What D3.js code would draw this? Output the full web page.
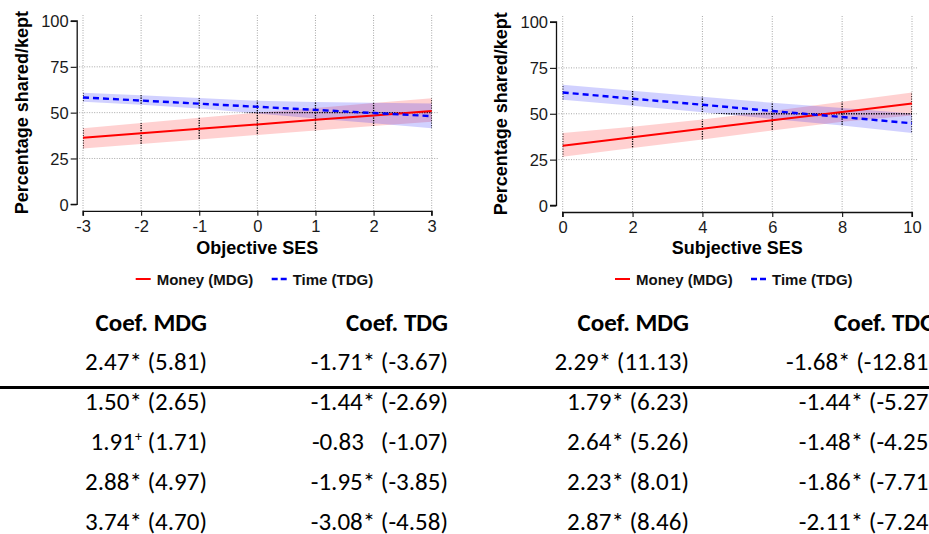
<!DOCTYPE html>
<html><head><meta charset="utf-8">
<script src="https://cdn.jsdelivr.net/npm/d3@7"></script>
<style>
html,body{margin:0;padding:0;background:#fff;}
svg{display:block;}
</style></head>
<body>
<svg id="chart" width="929" height="534"></svg>
<script>
// ---- Data: Objective SES panel ----
const objX = [-3, -2, -1, 0, 1, 2, 3];
const objMoneyFit  = [36.3, 38.8, 41.2, 43.6, 46.1, 48.5, 50.9];
const objMoneyLow  = [30.5, 32.9, 35.4, 37.8, 40.2, 42.7, 45.1];
const objMoneyHigh = [41.5, 44.3, 47.2, 50.0, 52.6, 55.2, 57.8];
const objTimeFit   = [58.3, 56.6, 54.9, 53.2, 51.5, 49.8, 48.1];
const objTimeLow   = [56.0, 54.3, 52.2, 49.6, 46.8, 44.2, 41.5];
const objTimeHigh  = [60.9, 59.5, 58.0, 56.5, 55.8, 55.4, 55.0];
// ---- Data: Subjective SES panel ----
const subX = [0, 2, 4, 6, 8, 10];
const subMoneyFit  = [32.6, 37.2, 41.8, 46.4, 51.0, 55.6];
const subMoneyLow  = [26.5, 31.3, 36.0, 40.9, 45.6, 49.1];
const subMoneyHigh = [39.5, 42.9, 46.8, 51.5, 56.5, 61.6];
const subTimeFit   = [61.6, 58.2, 54.9, 51.5, 48.2, 44.8];
const subTimeLow   = [57.6, 54.3, 50.8, 47.2, 43.6, 39.5];
const subTimeHigh  = [65.8, 62.5, 59.2, 56.0, 53.2, 50.2];
const yTicks = [0, 25, 50, 75, 100];
const legendLabels = ["Money (MDG)", "Time (TDG)"];
const yTitle = "Percentage shared/kept";
// ---- Table ----
const tableHeaders = ["Coef. MDG", "Coef. TDG", "Coef. MDG", "Coef. TDG"];
const tableRows = [
  ["2.47* (5.81)", "-1.71* (-3.67)", "2.29* (11.13)", "-1.68* (-12.81)"],
  ["1.50* (2.65)", "-1.44* (-2.69)", "1.79* (6.23)", "-1.44* (-5.27)"],
  ["1.91+ (1.71)", "-0.83   (-1.07)", "2.64* (5.26)", "-1.48* (-4.25)"],
  ["2.88* (4.97)", "-1.95* (-3.85)", "2.23* (8.01)", "-1.86* (-7.71)"],
  ["3.74* (4.70)", "-3.08* (-4.58)", "2.87* (8.46)", "-2.11* (-7.24)"]
];

const svg = d3.select("#chart");
const RED = "#ff0000", BLUE = "#0000ff";
const AXISFONT = "Liberation Sans, Arial, sans-serif";

function panel(cfg) {
  const {id, xs, mFit, mLo, mHi, tFit, tLo, tHi, xDom, xRange, yRange, axisX, gridRight, xTitle, yTitleX, legendX} = cfg;
  const g = svg.append("g");
  const x = d3.scaleLinear().domain(xDom).range(xRange);
  const y = d3.scaleLinear().domain([0, 100]).range(yRange);
  const xAxisY = yRange[0] + 6.5;
  const gridTop = yRange[1] - 6;

  const mData = xs.map((v, i) => ({x: v, fit: mFit[i], lo: mLo[i], hi: mHi[i]}));
  const tData = xs.map((v, i) => ({x: v, fit: tFit[i], lo: tLo[i], hi: tHi[i]}));
  const area = d3.area().x(d => x(d.x)).y0(d => y(d.lo)).y1(d => y(d.hi));
  const line = d3.line().x(d => x(d.x)).y(d => y(d.fit));

  const cp = svg.append("defs").append("clipPath").attr("id", "bands" + id);
  cp.append("path").attr("d", area(mData));
  cp.append("path").attr("d", area(tData));

  function grid(sel, color, dash, w) {
    sel.selectAll("line.v").data(xs).join("line").attr("class", "v")
      .attr("x1", d => x(d)).attr("x2", d => x(d))
      .attr("y1", gridTop).attr("y2", xAxisY)
      .attr("stroke", color).attr("stroke-width", w).attr("stroke-dasharray", dash);
    sel.selectAll("line.h").data([25, 50, 75]).join("line").attr("class", "h")
      .attr("x1", axisX).attr("x2", gridRight)
      .attr("y1", d => y(d)).attr("y2", d => y(d))
      .attr("stroke", color).attr("stroke-width", w).attr("stroke-dasharray", dash);
  }
  grid(g.append("g"), "#a8a8a8", "1,1.5", 1);

  g.append("path").attr("d", area(mData)).attr("fill", RED).attr("fill-opacity", 0.18);
  g.append("path").attr("d", area(tData)).attr("fill", BLUE).attr("fill-opacity", 0.18);

  grid(g.append("g").attr("clip-path", `url(#bands${id})`), "#000", "1.2,1.3", 1.3);

  g.append("path").attr("d", line(mData)).attr("fill", "none").attr("stroke", RED).attr("stroke-width", 2);
  g.append("path").attr("d", line(tData)).attr("fill", "none").attr("stroke", BLUE)
    .attr("stroke-width", 2.4).attr("stroke-dasharray", "6,4");

  const yAxis = d3.axisLeft(y).tickValues(yTicks).tickSize(6).tickPadding(2);
  const ya = g.append("g").attr("transform", `translate(${axisX},0)`).call(yAxis);
  const xAxis = d3.axisBottom(x).tickValues(xs).tickSize(5).tickPadding(4).tickFormat(d3.format("d"));
  const xa = g.append("g").attr("transform", `translate(0,${xAxisY})`).call(xAxis);
  [ya, xa].forEach(a => {
    a.attr("font-size", 16.5).attr("font-family", AXISFONT);
    a.select(".domain").attr("stroke", "#111").attr("stroke-width", 1.3);
    a.selectAll(".tick line").attr("stroke", "#111").attr("stroke-width", 1.1);
    a.selectAll(".tick text").attr("fill", "#1a1a1a").attr("font-size", 16.5)
      .style("font-size", "16.5px").style("font-family", AXISFONT);
  });
  ya.selectAll(".tick text").attr("dy", "0.36em");
  ya.select(".domain").attr("d", `M-6,${y(100)}H0.5V${y(0)}H-6`);
  xa.select(".domain").attr("d", `M${x(xDom[0])},5V0.5H${x(xDom[1])}V5`);
  xa.selectAll(".tick text").text(d => d < 0 ? "-" + Math.abs(d) : d);

  g.append("text").attr("x", (xRange[0] + xRange[1]) / 2).attr("y", 253.5)
    .attr("text-anchor", "middle").attr("font-family", AXISFONT).attr("font-size", 18)
    .attr("font-weight", "bold").text(xTitle);
  g.append("text").attr("transform", `translate(${yTitleX},${(y(0)+y(100))/2}) rotate(-90)`)
    .attr("text-anchor", "middle").attr("font-family", AXISFONT).attr("font-size", 18)
    .attr("font-weight", "bold").text(yTitle);

  const lg = g.append("g").attr("transform", `translate(${legendX},279)`);
  const items = [{c: RED, dash: null, w: 2}, {c: BLUE, dash: "6,3", w: 2.4}];
  items.forEach((it, i) => {
    const ox = i === 0 ? 0 : 136;
    lg.append("line").attr("x1", ox).attr("x2", ox + 15).attr("y1", 0).attr("y2", 0)
      .attr("stroke", it.c).attr("stroke-width", it.w).attr("stroke-dasharray", it.dash);
    lg.append("text").attr("x", ox + 21).attr("y", 5.5).attr("font-family", AXISFONT)
      .attr("font-size", 15).attr("font-weight", "bold").attr("fill", "#111").text(legendLabels[i]);
  });
}

panel({id: 1, xs: objX, mFit: objMoneyFit, mLo: objMoneyLow, mHi: objMoneyHigh,
  tFit: objTimeFit, tLo: objTimeLow, tHi: objTimeHigh,
  xDom: [-3, 3], xRange: [83, 431.7], yRange: [204.3, 21], axisX: 76.7, gridRight: 438,
  xTitle: "Objective SES", yTitleX: 28, legendX: 135.7});
panel({id: 2, xs: subX, mFit: subMoneyFit, mLo: subMoneyLow, mHi: subMoneyHigh,
  tFit: subTimeFit, tLo: subTimeLow, tHi: subTimeHigh,
  xDom: [0, 10], xRange: [562.7, 912], yRange: [205.5, 22], axisX: 556, gridRight: 918,
  xTitle: "Subjective SES", yTitleX: 507, legendX: 615});

// ---- Table ----
const TFONT = "Carlito, Lato, sans-serif";
const colRight = [207, 448, 689, 936];
const tg = svg.append("g");
tg.selectAll(".hdr").data(tableHeaders).join("text")
  .attr("x", (d, i) => colRight[i]).attr("y", 331).attr("text-anchor", "end")
  .attr("font-family", TFONT).attr("font-size", 25).attr("font-weight", "bold")
  .attr("fill", "#000").text(d => d);
tableRows.forEach((row, r) => {
  const yy = 370 + r * 40;
  row.forEach((cell, c) => {
    const t = tg.append("text").attr("x", colRight[c]).attr("y", yy).attr("text-anchor", "end")
      .attr("xml:space", "preserve").style("white-space", "pre")
      .attr("font-family", TFONT).attr("font-size", 25).attr("fill", "#000");
    if (cell.includes("+")) {
      const parts = cell.split("+");
      t.append("tspan").text(parts[0]);
      t.append("tspan").attr("dy", -9).attr("font-size", 14).text("+");
      t.append("tspan").attr("dy", 9).text(parts[1]);
    } else {
      t.text(cell);
    }
  });
});
tg.append("line").attr("x1", 0).attr("x2", 929).attr("y1", 387.5).attr("y2", 387.5)
  .attr("stroke", "#000").attr("stroke-width", 3);
</script>
</body></html>
